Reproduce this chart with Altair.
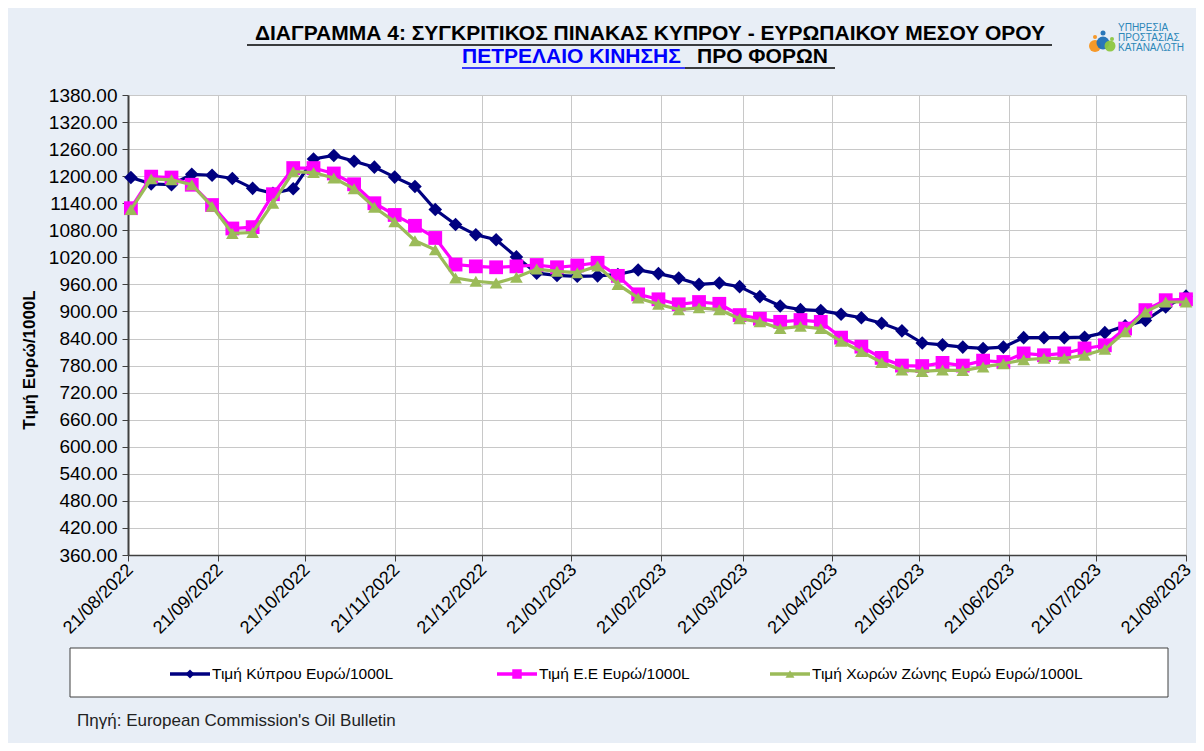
import altair as alt
import pandas as pd

# ---------------- data ----------------
dates = [d.strftime("%Y-%m-%d") for d in pd.date_range("2022-08-22", periods=53, freq="7D")]

cyprus = [1197, 1183, 1181, 1204, 1202, 1195, 1173, 1162, 1172, 1238, 1246, 1233, 1220, 1198,
          1177, 1126, 1093, 1070, 1059, 1021, 985, 980, 978, 979, 982, 992, 984, 974, 960, 963,
          955, 933, 912, 904, 902, 894, 886, 874, 857, 830, 826, 821, 818, 821, 842, 842, 842,
          843, 853, 868, 880, 910, 934]
eu = [1129, 1199, 1197, 1181, 1136, 1084, 1087, 1160, 1218, 1218, 1206, 1182, 1140, 1114,
      1090, 1063, 1004, 1000, 998, 1000, 1003, 998, 1002, 1008, 979, 938, 927, 916, 921, 917,
      892, 884, 877, 881, 877, 842, 822, 797, 780, 779, 786, 780, 791, 788, 807, 803, 807,
      818, 825, 862, 903, 925, 927]
euro = [1126, 1194, 1192, 1181, 1133, 1073, 1075, 1140, 1210, 1208, 1196, 1172, 1131, 1099,
        1057, 1037, 974, 967, 963, 976, 994, 989, 986, 1001, 960, 930, 916, 904, 908, 904,
        884, 877, 862, 867, 862, 834, 811, 787, 770, 767, 770, 769, 777, 784, 793, 796, 796,
        803, 816, 855, 899, 921, 921]

series_names = ["Τιμή Κύπρου Ευρώ/1000L", "Τιμή Ε.Ε Ευρώ/1000L",
                "Τιμή Χωρών Ζώνης Ευρώ Ευρώ/1000L"]
series_colors = ["#000080", "#FF00FF", "#9BBB59"]
series_shapes = ["diamond", "square", "triangle-up"]
series_sizes = [185, 190, 160]

y_ticks = list(range(360, 1381, 60))
x_tick_months = [(2022, 8), (2022, 9), (2022, 10), (2022, 11), (2022, 12), (2023, 1),
                 (2023, 2), (2023, 3), (2023, 4), (2023, 5), (2023, 6), (2023, 7), (2023, 8)]

title1 = "ΔΙΑΓΡΑΜΜΑ 4: ΣΥΓΚΡΙΤΙΚΟΣ ΠΙΝΑΚΑΣ ΚΥΠΡΟΥ - ΕΥΡΩΠΑΙΚΟΥ ΜΕΣΟΥ ΟΡΟΥ"
title2a = "ΠΕΤΡΕΛΑΙΟ ΚΙΝΗΣΗΣ"
title2b = "ΠΡΟ  ΦΟΡΩΝ"
y_title = "Τιμή Ευρώ/1000L"
source = "Πηγή: European Commission's Oil Bulletin"
logo_lines = ["ΥΠΗΡΕΣΙΑ", "ΠΡΟΣΤΑΣΙΑΣ", "ΚΑΤΑΝΑΛΩΤΗ"]

# ---------------- chart ----------------
W, H = 1058, 460
FONT = "Liberation Sans"

x_enc = alt.X(
    "date:T",
    scale=alt.Scale(type="utc", domain=[alt.DateTime(year=2022, month=8, date=21, utc=True),
                                        alt.DateTime(year=2023, month=8, date=21, utc=True)]),
    axis=alt.Axis(
        values=[alt.DateTime(year=y, month=m, date=21, utc=True) for y, m in x_tick_months],
        labelExpr="utcFormat(datum.value, '%d/%m/%Y')",
        labelAngle=-45, labelAlign="right", labelBaseline="middle",
        labelFontSize=18, labelPadding=6, labelOffset=2, tickSize=6, title=None,
        grid=True, domainWidth=1.5, labelOverlap=False,
    ),
)
y_enc = alt.Y(
    "value:Q",
    scale=alt.Scale(domain=[360, 1380], nice=False, zero=False),
    axis=alt.Axis(values=y_ticks, format=".2f", labelFontSize=19, labelPadding=5,
                  tickSize=6, title=None, grid=True, domainWidth=2),
)

one = pd.DataFrame({"a": [0]})
layers = []

for name, vals, col, shp, sz in zip(series_names, [cyprus, eu, euro], series_colors,
                                     series_shapes, series_sizes):
    df = pd.DataFrame({"date": dates, "value": vals})
    layers.append(alt.Chart(df).mark_line(color=col, strokeWidth=3.2).encode(x=x_enc, y=y_enc))
    layers.append(alt.Chart(df).mark_point(shape=shp, filled=True, size=sz, color=col,
                                           opacity=1).encode(x=x_enc, y=y_enc))


def text(t, x, y, size, color="black", bold=False, align="left", angle=0):
    kw = dict(font=FONT, fontSize=size, color=color, align=align, baseline="middle")
    if bold:
        kw["fontWeight"] = "bold"
    if angle:
        kw["angle"] = angle
    return alt.Chart(one).mark_text(**kw).encode(
        x=alt.value(x), y=alt.value(y), text=alt.value(t))


def hline(x1, x2, y, color, w=1.5):
    return alt.Chart(one).mark_rule(color=color, strokeWidth=w).encode(
        x=alt.value(x1), x2=alt.value(x2), y=alt.value(y))


# titles
layers.append(text(title1, 522, -61, 21, bold=True, align="center"))
layers.append(hline(119, 924, -50, "black"))
layers.append(text(title2a, 334, -38, 21, color="#0000FF", bold=True))
layers.append(text(title2b, 569, -38, 21, bold=True))
layers.append(hline(334, 557, -27, "#0000FF"))
layers.append(hline(557, 707, -27, "black"))

# y title
layers.append(text(y_title, -98, 265, 17, bold=True, align="center", angle=270))

# legend box
layers.append(alt.Chart(one).mark_rect(fill="white", stroke="#404040", strokeWidth=1).encode(
    x=alt.value(-58), x2=alt.value(1040), y=alt.value(553), y2=alt.value(602)))
for name, col, shp, sz, lx in zip(series_names, series_colors, series_shapes,
                                  [80, 90, 80], [42, 369, 642]):
    layers.append(hline(lx, lx + 40, 579, col, w=3.5))
    layers.append(alt.Chart(one).mark_point(shape=shp, filled=True, size=sz, color=col,
                                            opacity=1).encode(x=alt.value(lx + 20),
                                                              y=alt.value(579)))
    layers.append(text(name, lx + 42, 579, 15.5))

# source
layers.append(text(source, -51, 626, 17, color="#222222"))

# logo
logo_dots = pd.DataFrame({
    "px": [967, 975, 982, 975, 967, 984],
    "py": [-49, -52, -49, -62, -58, -56],
    "sz": [144, 169, 121, 25, 16, 16],
    "c": ["#F7941D", "#1F6FB5", "#8DC63F", "#1F6FB5", "#F7941D", "#8DC63F"],
})
layers.append(alt.Chart(logo_dots).mark_point(filled=True, shape="circle", opacity=0.95).encode(
    x=alt.X("px:Q", scale=None), y=alt.Y("py:Q", scale=None),
    size=alt.Size("sz:Q", scale=None), color=alt.Color("c:N", scale=None)))
for i, t in enumerate(logo_lines):
    layers.append(text(t, 990, -67 + 10 * i, 10, color="#2B86B8"))

chart = alt.layer(*layers).properties(
    width=W, height=H,
    padding={"left": 120, "top": 87, "right": 10, "bottom": 188},
    autosize=alt.AutoSizeParams(type="none"),
).configure(background="#E8EEF6").configure_view(fill="white", stroke=None).configure_axis(
    labelFont=FONT, labelColor="black", gridColor="#C8C8C8", gridWidth=1,
    domainColor="#404040", tickColor="#404040",
)

chart.save("out.html", embed_options={"renderer": "svg", "actions": False})
